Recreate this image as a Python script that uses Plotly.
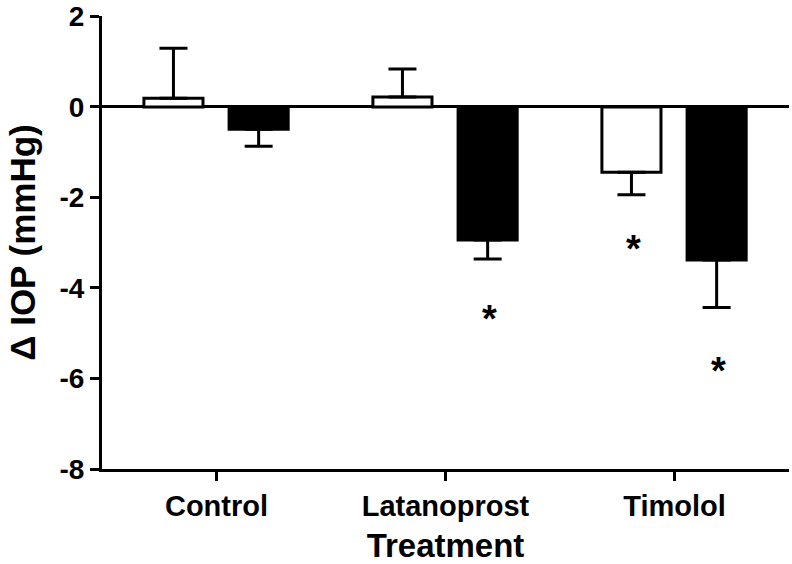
import plotly.graph_objects as go

# ---- data ----
categories = ["Control", "Latanoprost", "Timolol"]

open_values = [0.19, 0.22, -1.44]
open_err_up = [1.11, 0.62, 0.0]
open_err_down = [0.0, 0.0, 0.50]

filled_values = [-0.49, -2.94, -3.38]
filled_err_up = [0.0, 0.0, 0.0]
filled_err_down = [0.38, 0.42, 1.05]

y_tick_values = [2, 0, -2, -4, -6, -8]
y_tick_labels = ["2", "0", "-2", "-4", "-6", "-8"]

sig_category = ["Latanoprost", "Timolol", "Timolol"]
sig_series = ["filled", "open", "filled"]
sig_y = [-4.59, -3.04, -5.74]
sig_text = ["*", "*", "*"]

# ---- styling ----
FONT = "Liberation Sans, Arial, Helvetica, sans-serif"
BAR_W = 0.258
OFFSETS = {"open": -0.317, "filled": 0.055}

fig = go.Figure()

fig.add_trace(go.Bar(
    x=categories, y=open_values, name="open",
    width=BAR_W, offset=OFFSETS["open"],
    marker=dict(color="white", line=dict(color="black", width=3)),
    error_y=dict(type="data", symmetric=False, array=open_err_up,
                 arrayminus=open_err_down, color="black", thickness=3, width=14),
    showlegend=False, hoverinfo="skip",
))
fig.add_trace(go.Bar(
    x=categories, y=filled_values, name="filled",
    width=BAR_W, offset=OFFSETS["filled"],
    marker=dict(color="black", line=dict(color="black", width=3)),
    error_y=dict(type="data", symmetric=False, array=filled_err_up,
                 arrayminus=filled_err_down, color="black", thickness=3, width=14),
    showlegend=False, hoverinfo="skip",
))

for cat, ser, yv, txt in zip(sig_category, sig_series, sig_y, sig_text):
    xpos = categories.index(cat) + OFFSETS[ser] + BAR_W / 2
    fig.add_annotation(
        x=xpos, y=yv, xref="x", yref="y", text=txt, showarrow=False,
        font=dict(family=FONT, size=38, color="black", weight="bold"),
        xshift=2, yshift=-4,
    )

fig.update_layout(
    width=792, height=564,
    margin=dict(l=102, r=3, t=16, b=95),
    paper_bgcolor="white", plot_bgcolor="white",
    barmode="overlay",
    font=dict(family=FONT, color="black"),
)

fig.update_xaxes(
    type="category", range=[-0.5, 2.5], automargin=False,
    showline=True, linecolor="black", linewidth=3,
    ticks="outside", ticklen=9, tickwidth=3, tickcolor="black",
    tickfont=dict(family=FONT, size=29, color="black", weight="bold"),
    showgrid=False, zeroline=False,
    title=dict(text="Treatment", font=dict(family=FONT, size=33, color="black", weight="bold"),
               standoff=16),
)
fig.update_yaxes(
    range=[-8, 2.01], tickvals=y_tick_values, ticktext=y_tick_labels, automargin=False,
    ticklabeloverflow="allow",
    showline=True, linecolor="black", linewidth=3,
    ticks="outside", ticklen=9, tickwidth=3, tickcolor="black",
    tickfont=dict(family=FONT, size=28, color="black", weight="bold"),
    showgrid=False,
    zeroline=True, zerolinecolor="black", zerolinewidth=3,
    title=dict(text="\u0394 IOP (mmHg)", font=dict(family=FONT, size=35, color="black", weight="bold"),
               standoff=14),
)

fig.write_html(
    "out.html",
    config={"displayModeBar": False},
    post_script="document.body.style.margin='0';document.body.style.overflow='hidden';",
)
